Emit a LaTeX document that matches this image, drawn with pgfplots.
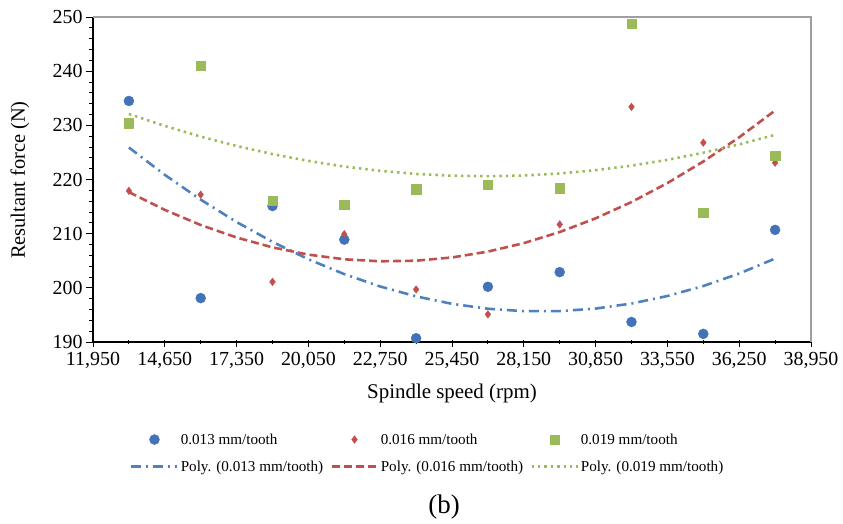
\documentclass[border=0pt]{standalone}
\usepackage{pgfplots}
\pgfplotsset{compat=1.18}
\usepackage{fontspec}
\setmainfont{Liberation Serif}
\definecolor{cblue}{HTML}{4272B8}
\definecolor{lblue}{HTML}{4F81BD}
\definecolor{cred}{HTML}{C0504D}
\definecolor{cgreen}{HTML}{9BBB59}
\pgfplotsset{
  markleg/.style={legend image code/.code={\draw[##1] plot coordinates {(23bp,0bp)};}},
  lineleg/.style={legend image code/.code={\draw[##1] (0bp,0bp) -- (46bp,0bp);}},
}
\begin{document}
\begin{tikzpicture}
\begin{axis}[
  scale only axis, width=718bp, height=325bp,
  xmin=11950, xmax=38950, ymin=190, ymax=250,
  xtick={11950,14650,17350,20050,22750,25450,28150,30850,33550,36250,38950},
  minor x tick num=1,
  ytick={190,200,...,250}, minor y tick num=4,
  axis x line*=bottom, axis y line*=left,
  axis line style={black, line width=1.2pt},
  tick style={black, line width=1pt},
  major tick length=7bp, minor tick length=4bp,
  tick align=outside,
  x tick style={yshift=2bp},
  scaled x ticks=false,
  xticklabel style={/pgf/number format/.cd, fixed, 1000 sep={,}},
  /pgf/number format/assume math mode=true,
  ticklabel style={font=\fontsize{20}{22}\selectfont},
  xlabel={Spindle speed (rpm)}, ylabel={Resultant force (N)},
  xlabel style={font=\fontsize{21}{23}\selectfont, at={(axis description cs:0.5,-0.157)}, anchor=center},
  ylabel style={font=\fontsize{20.5}{22}\selectfont, at={(axis description cs:-0.102,0.498)}, anchor=center},
  clip=false,
  legend columns=3,
  legend cell align=left,
  legend style={draw=none, fill=none, inner sep=0pt, at={(rel axis cs:0.0515,-0.278)}, anchor=north west,
    font=\fontsize{15.2}{18}\selectfont, row sep=13bp,
    nodes={inner sep=1bp},
    /tikz/every odd column/.style={column sep=1bp},
    /tikz/every even column/.style={column sep=6bp}},
]
% data points
\addplot[only marks, mark=*, mark size=5bp, color=cblue, markleg]
  coordinates {(13300,234.5)(16000,198.1)(18700,215.1)(21400,208.9)(24100,190.7)
  (26800,200.2)(29500,202.9)(32200,193.7)(34900,191.5)(37600,210.7)};
\addlegendentry{0.013 mm/tooth}
\addplot[only marks, mark=diamond*, mark size=3.8bp, color=cred, markleg]
  coordinates {(13300,217.9)(16000,217.2)(18700,201.1)(21400,209.9)(24100,199.7)
  (26800,195.1)(29500,211.7)(32200,233.4)(34900,226.8)(37600,223.1)};
\addlegendentry{0.016 mm/tooth}
\addplot[only marks, mark=square*, mark size=4.7bp, color=cgreen, markleg]
  coordinates {(13300,230.4)(16000,241.0)(18700,216.1)(21400,215.4)(24100,218.2)
  (26800,219.0)(29500,218.4)(32200,248.8)(34900,213.9)(37600,224.4)};
\addlegendentry{0.019 mm/tooth}
% trendlines
\addplot[no marks, lblue, line width=2.6pt, dash pattern=on 10bp off 5bp on 2bp off 5bp, lineleg]
  coordinates {(13300,225.91)(14650,220.86)(16000,216.28)(17350,212.15)(18700,208.49)
  (20050,205.28)(21400,202.53)(22750,200.25)(24100,198.42)(25450,197.05)(26800,196.14)
  (28150,195.69)(29500,195.70)(30850,196.17)(32200,197.10)(33550,198.49)(34900,200.33)
  (36250,202.64)(37600,205.41)};
\addlegendentry{Poly. (0.013 mm/tooth)}
\addplot[no marks, cred, line width=2.6pt, dash pattern=on 8bp off 4bp, lineleg]
  coordinates {(13300,217.67)(14650,214.39)(16000,211.60)(17350,209.29)(18700,207.47)
  (20050,206.13)(21400,205.27)(22750,204.90)(24100,205.01)(25450,205.61)(26800,206.69)
  (28150,208.25)(29500,210.30)(30850,212.83)(32200,215.84)(33550,219.34)(34900,223.32)
  (36250,227.79)(37600,232.74)};
\addlegendentry{Poly. (0.016 mm/tooth)}
\addplot[no marks, cgreen, line width=2.6pt, dash pattern=on 2.4bp off 4bp, lineleg]
  coordinates {(13300,232.09)(14650,229.89)(16000,227.92)(17350,226.19)(18700,224.69)
  (20050,223.43)(21400,222.39)(22750,221.60)(24100,221.03)(25450,220.70)(26800,220.61)
  (28150,220.74)(29500,221.11)(30850,221.72)(32200,222.56)(33550,223.63)(34900,224.94)
  (36250,226.48)(37600,228.25)};
\addlegendentry{Poly. (0.019 mm/tooth)}
\draw[gray!75, line width=1.2pt] (rel axis cs:0,1) -- (rel axis cs:1,1) -- (rel axis cs:1,0);
\node[font=\fontsize{27}{29}\selectfont] at (rel axis cs:0.489,-0.508) {(b)};
\coordinate (O) at (rel axis cs:0,0);
\end{axis}
\path (O) ++(-93bp,-182bp) rectangle ++(843bp,524bp);
\end{tikzpicture}
\end{document}
